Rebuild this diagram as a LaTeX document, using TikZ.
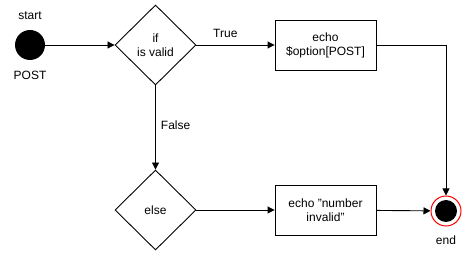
\documentclass[tikz,border=0pt]{standalone}
\usepackage{fontspec}
\setmainfont{Liberation Sans}
\usetikzlibrary{shapes.geometric,arrows.meta}
\begin{document}
\begin{tikzpicture}[x=1pt,y=-1pt,
  font=\fontsize{12}{14}\selectfont,
  line width=0.9pt,
  flow/.style={-{Triangle[length=7pt,width=7pt]}},
  decision/.style={draw,diamond,minimum width=81pt,minimum height=80pt,inner sep=0pt,align=center},
  action/.style={draw,rectangle,minimum width=101pt,minimum height=50pt,align=center},
  lbl/.style={inner sep=1pt}]
\useasboundingbox (0,0) rectangle (466,256);
% initial state
\node[circle,fill=black,minimum size=30pt,inner sep=0pt] (start) at (30,45) {};
\node[lbl] (startlbl) at (30,16) {start};
\node[lbl] (postlbl) at (30,75) {POST};
% decisions
\node[decision] (if) at (155.5,45) {if\\is valid};
\node[decision] (else) at (155.5,210) {else};
% actions
\node[action] (echo1) at (325.5,45) {echo\\\$option[POST]};
\node[action] (echo2) at (325.5,210) {echo "number\\invalid"};
% final state
\node[circle,draw=red,line width=1pt,fill=white,minimum size=30pt,inner sep=0pt] (end) at (446,211) {};
\node[circle,fill=black,minimum size=22pt,inner sep=0pt] (endcore) at (446,211) {};
\node[lbl] (endlbl) at (446,240) {end};
% transitions
\draw[flow] (start) -- (if);
\draw[flow] (if) -- node[pos=0.37,above=6pt,lbl] {True} (echo1);
\draw[flow] (if) -- node[pos=0.47,right=4pt,lbl] {False} (else);
\draw[flow] (else) -- (echo2);
\draw[flow] (echo2) -- (end);
\draw[flow] (echo1.east) -| (end.north);
\end{tikzpicture}
\end{document}
